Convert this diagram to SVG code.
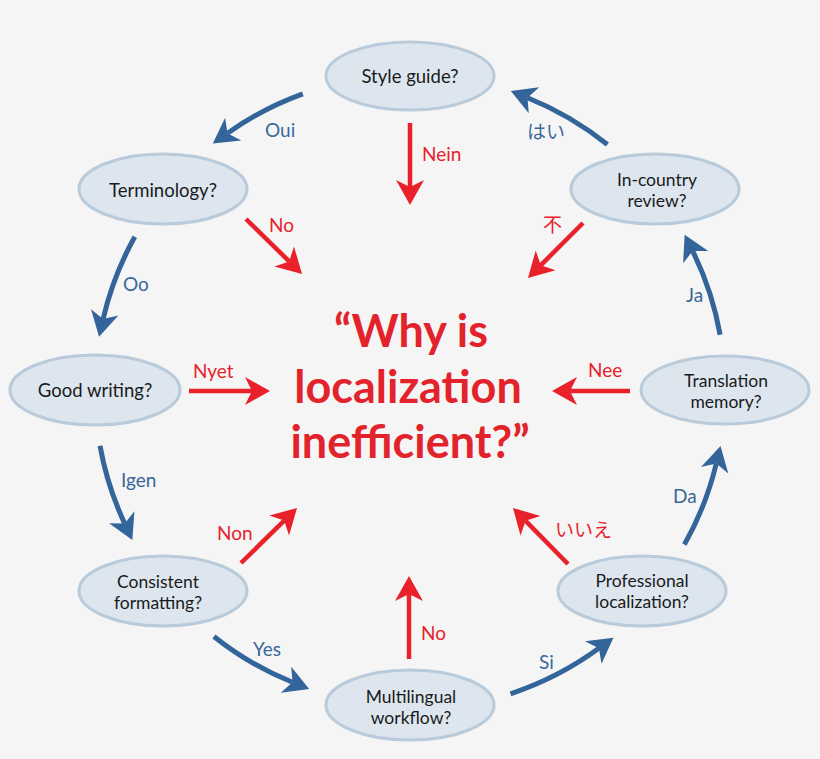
<svg xmlns="http://www.w3.org/2000/svg" width="820" height="759" viewBox="0 0 820 759">
<defs>
<style>
.node ellipse{fill:#dde6ef;stroke:#b9cbdb;stroke-width:3}
.node text{font-family:Lato,"Liberation Sans",sans-serif;font-size:18.5px;fill:#1a1a1a;text-anchor:middle}
.node text.t2{font-size:17.5px}
.blue{fill:none;stroke:#33659a;stroke-width:5}
.red{fill:none;stroke:#e8212a;stroke-width:4.5}
.lb{font-family:Lato,"Noto Sans CJK JP",sans-serif;font-size:19px;fill:#3a6899}
.lr{font-family:Lato,"Noto Sans CJK JP",sans-serif;font-size:19px;fill:#e8212a}
.title{font-family:Lato,"Liberation Sans",sans-serif;font-weight:bold;font-size:45px;fill:#e3232b;text-anchor:middle}
</style>
<marker id="ab" markerUnits="userSpaceOnUse" markerWidth="40" markerHeight="40" viewBox="-10 -20 40 40" refX="0" refY="0" orient="auto" overflow="visible">
<path d="M18,0 L-7,-14 L0,0 L-7,14 Z" fill="#33659a"/>
</marker>
<marker id="ar" markerUnits="userSpaceOnUse" markerWidth="40" markerHeight="40" viewBox="-10 -20 40 40" refX="0" refY="0" orient="auto" overflow="visible">
<path d="M18,0 L-7,-14 L0,0 L-7,14 Z" fill="#e8212a"/>
</marker>
</defs>
<rect width="820" height="759" fill="#f5f5f5"/>

<g id="connectors">
<path class="blue" marker-end="url(#ab)" d="M302.8,93.8 A315,315 0 0 0 227.5,133.2"/>
<path class="blue" marker-end="url(#ab)" d="M134.8,236.8 A315,315 0 0 0 103.1,319.1"/>
<path class="blue" marker-end="url(#ab)" d="M100,445.8 A315,315 0 0 0 124.7,523.6"/>
<path class="blue" marker-end="url(#ab)" d="M213.9,636.5 A315,315 0 0 0 292.5,682.3"/>
<path class="blue" marker-end="url(#ab)" d="M510.5,693.8 A320,320 0 0 0 598.9,648.3"/>
<path class="blue" marker-end="url(#ab)" d="M684.4,544.6 A315,315 0 0 0 716.3,463.5"/>
<path class="blue" marker-end="url(#ab)" d="M720.1,334.7 A315,315 0 0 0 692.6,250.9"/>
<path class="blue" marker-end="url(#ab)" d="M607.4,144.5 A315,315 0 0 0 527.5,97.7"/>

<path class="red" marker-end="url(#ar)" d="M410,123 L410,187"/>
<path class="red" marker-end="url(#ar)" d="M246,219 L289.2,261.4"/>
<path class="red" marker-end="url(#ar)" d="M583,223 L540.7,265.3"/>
<path class="red" marker-end="url(#ar)" d="M189,391 L252,391"/>
<path class="red" marker-end="url(#ar)" d="M630,391 L570,391"/>
<path class="red" marker-end="url(#ar)" d="M241,563 L284.2,520.6"/>
<path class="red" marker-end="url(#ar)" d="M568,564 L525.6,520.8"/>
<path class="red" marker-end="url(#ar)" d="M409,659 L409,594"/>

<text class="lb" x="265" y="137">Oui</text>
<text class="lb" x="123" y="291">Oo</text>
<text class="lb" x="121" y="487">Igen</text>
<text class="lb" x="253" y="656">Yes</text>
<text class="lb" x="539" y="669">Si</text>
<text class="lb" x="673" y="503">Da</text>
<text class="lb" x="686" y="302">Ja</text>
<text class="lb" x="527" y="139">はい</text>

<text class="lr" x="422" y="161">Nein</text>
<text class="lr" x="269" y="232">No</text>
<text class="lr" x="543" y="232" font-size="17">不</text>
<text class="lr" x="193" y="378">Nyet</text>
<text class="lr" x="588" y="377">Nee</text>
<text class="lr" x="217" y="540">Non</text>
<text class="lr" x="555" y="537">いいえ</text>
<text class="lr" x="421" y="640">No</text>
</g>

<g id="n-style" class="node">
<ellipse cx="410" cy="76" rx="84" ry="34"/>
<text x="410" y="83">Style guide?</text>
</g>
<g id="n-terminology" class="node">
<ellipse cx="163" cy="189" rx="84" ry="35"/>
<text x="163" y="197">Terminology?</text>
</g>
<g id="n-goodwriting" class="node">
<ellipse cx="95" cy="390" rx="85" ry="35"/>
<text x="95" y="397">Good writing?</text>
</g>
<g id="n-consistent" class="node">
<ellipse cx="163" cy="591" rx="84" ry="35"/>
<text class="t2"><tspan x="158" y="587.5">Consistent</tspan><tspan x="158" dy="21.5">formatting?</tspan></text>
</g>
<g id="n-multilingual" class="node">
<ellipse cx="410" cy="705" rx="84" ry="35"/>
<text class="t2"><tspan x="411" y="702.5">Multilingual</tspan><tspan x="411" dy="21.5">workflow?</tspan></text>
</g>
<g id="n-professional" class="node">
<ellipse cx="642" cy="591" rx="84" ry="35"/>
<text class="t2"><tspan x="642" y="586.5">Professional</tspan><tspan x="642" dy="21.5">localization?</tspan></text>
</g>
<g id="n-tm" class="node">
<ellipse cx="725" cy="390" rx="84" ry="34"/>
<text class="t2"><tspan x="726" y="386.5">Translation</tspan><tspan x="726" dy="21.5">memory?</tspan></text>
</g>
<g id="n-incountry" class="node">
<ellipse cx="655" cy="189" rx="84" ry="35"/>
<text class="t2"><tspan x="657" y="185.5">In-country</tspan><tspan x="657" dy="21.5">review?</tspan></text>
</g>

<g id="center">
<text class="title"><tspan x="411" y="347">“Why is</tspan><tspan x="408" y="403">localization</tspan><tspan x="410" y="458">inefficient?”</tspan></text>
</g>
</svg>
